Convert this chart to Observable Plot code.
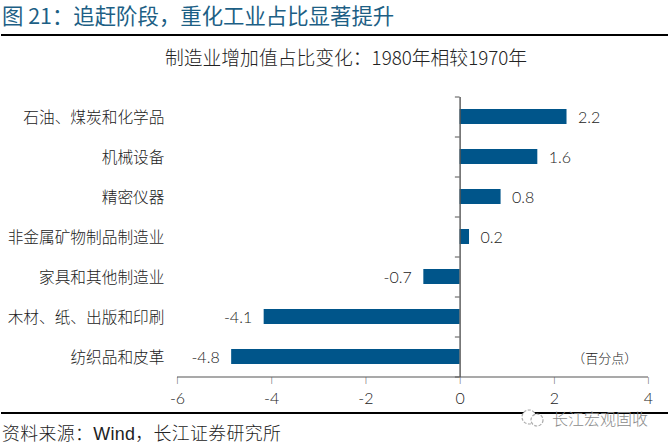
<!DOCTYPE html>
<html>
<head>
<meta charset="utf-8">
<script src="https://cdn.jsdelivr.net/npm/d3@7"></script>
<script src="https://cdn.jsdelivr.net/npm/@observablehq/plot@0.6"></script>
<style>
html,body{margin:0;padding:0;background:#fff;width:668px;height:445px;overflow:hidden;font-family:"Noto Sans CJK SC",sans-serif}
#wrap{position:relative;width:668px;height:445px}
#title{position:absolute;left:2px;top:2px;font-size:21.4px;line-height:26px;color:#1d5f85;white-space:nowrap}
.line{position:absolute;left:1px;width:667px;height:2px;background:#000}
#sub{position:absolute;left:165px;top:43px;font-size:18.8px;line-height:28px;color:#222;font-weight:300;white-space:nowrap}
#chart{position:absolute;left:0;top:80px}
#source{position:absolute;left:2px;top:424px;font-family:"Liberation Sans","Noto Sans CJK SC",sans-serif;font-size:17.9px;letter-spacing:.35px;line-height:20px;color:#222;font-weight:300;white-space:nowrap}
#mark{position:absolute;left:552px;top:407px;font-size:16px;line-height:22px;color:#8a8a8a;white-space:nowrap;font-weight:300}
#icon{position:absolute;left:518px;top:407px}
</style>
</head>
<body>
<div id="wrap">
  <div id="title">图 21：追赶阶段，重化工业占比显著提升</div>
  <div class="line" style="top:34px"></div>
  <div id="sub">制造业增加值占比变化：1980年相较1970年</div>
  <div id="chart"></div>
  <div class="line" style="top:412px"></div>
  <svg id="icon" width="30" height="22" viewBox="0 0 30 22"><circle cx="11" cy="10" r="7" fill="#fff" stroke="#aaa" stroke-width="1.2" stroke-dasharray="3 1.5"/><circle cx="19" cy="13" r="6" fill="#fff" stroke="#aaa" stroke-width="1.2" stroke-dasharray="3 1.5"/></svg>
  <div id="mark">长江宏观固收</div>
  <div id="source">资料来源：Wind，长江证券研究所</div>
</div>
<script>
const categories = ["石油、煤炭和化学品","机械设备","精密仪器","非金属矿物制品制造业","家具和其他制造业","木材、纸、出版和印刷","纺织品和皮革"];
const values = [2.27,1.65,0.87,0.2,-0.77,-4.16,-4.85];
const labels = ["2.2","1.6","0.8","0.2","-0.7","-4.1","-4.8"];
const xTicks = [-6,-4,-2,0,2,4];
const unitNote = "（百分点）";
const table = categories.map((c,i)=>({category:c,value:values[i],label:labels[i]}));
const last = categories[categories.length-1];
const numFont = "Lato, sans-serif";
const plotH = 330, mTop = 17, mBottom = 33;
const step = (plotH-mTop-mBottom)/categories.length;
const textBase = {fill:"#222",fontWeight:300};
const numStyle = {fontSize:16,letterSpacing:"-0.6px",...textBase,fontFamily:numFont};
const plot = Plot.plot({
  width:668,height:plotH,
  marginLeft:177,marginRight:20,marginTop:mTop,marginBottom:mBottom,
  style:{background:"transparent",overflow:"visible"},
  x:{domain:[-6,4],axis:null},
  y:{domain:categories,axis:null,paddingInner:0.62,paddingOuter:0.31},
  marks:[
    Plot.barX(table,{x:"value",y:"category",fill:"#00558a"}),
    Plot.ruleX([0],{stroke:"#555",strokeWidth:1.4}),
    Plot.ruleY(categories,{y:d=>d,x1:-0.1,x2:0,dy:step/2,stroke:"#555"}),
    Plot.ruleY(categories.slice(0,1),{y:d=>d,x1:-0.1,x2:0,dy:-step/2,stroke:"#555"}),
    Plot.ruleY([last],{y:d=>d,x1:-6,x2:4,dy:step/2,stroke:"#555",strokeWidth:1.2}),
    Plot.text(xTicks,{x:d=>d,y:()=>last,dy:step/2+3,text:()=>"|",fontSize:7,fill:"#555"}),
    Plot.text(categories,{y:d=>d,x:()=>-6,text:d=>d,textAnchor:"end",dx:-13,dy:1,fontSize:15.7,...textBase,fontFamily:"Noto Sans CJK SC"}),
    Plot.text(table.filter(d=>d.value>=0),{x:"value",y:"category",text:"label",textAnchor:"start",dx:11,dy:1,...numStyle}),
    Plot.text(table.filter(d=>d.value<0),{x:"value",y:"category",text:"label",textAnchor:"end",dx:-12,dy:1,...numStyle}),
    Plot.text(xTicks,{x:d=>d,y:()=>last,dy:step/2+22,text:d=>String(d),...numStyle}),
    Plot.text([unitNote],{x:()=>3.07,y:()=>last,dy:2,text:d=>d,fontSize:13,...textBase,fontFamily:"Noto Sans CJK SC"})
  ]
});
document.getElementById("chart").appendChild(plot);
</script>
</body>
</html>
